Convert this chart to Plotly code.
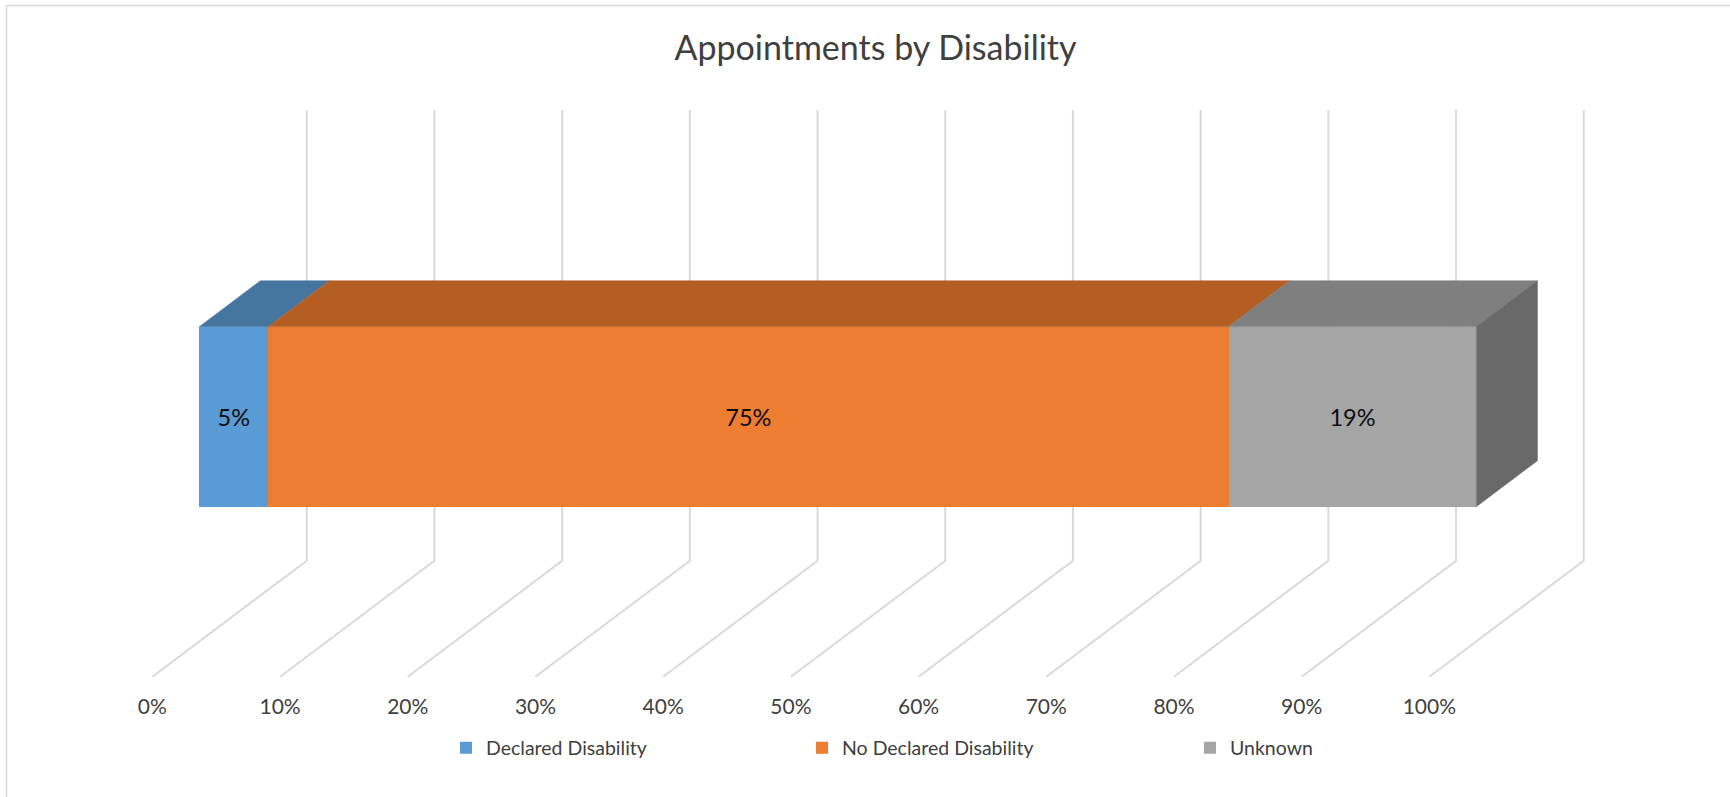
import plotly.graph_objects as go

# ---------------- data ----------------
categories = ["Appointments"]
series_names = ["Declared Disability", "No Declared Disability", "Unknown"]
declared = [5.4]
no_declared = [75.2]
unknown = [19.4]
tick_values = [0, 10, 20, 30, 40, 50, 60, 70, 80, 90, 100]
tick_labels = ["0%", "10%", "20%", "30%", "40%", "50%", "60%", "70%", "80%", "90%", "100%"]

# ---------------- styles ----------------
front_colors = ["#5B9BD5", "#ED7D31", "#A5A5A5"]
top_colors = ["#4676A0", "#B45E23", "#7F7F7F"]
side_color = "#696969"
grid_color = "#D9D9D9"
text_color = "#404040"
FONT = "Lato"

# ---------------- geometry (layout constants) ----------------
W, H = 1730, 797
PX_PER_PCT = 12.77          # horizontal px per percent on the bar front plane
BAR_X0_PX = 199.3           # pixel of 0% on the bar front plane
BAR_CY_PX = 416.7           # pixel row of bar centre
x_range = [(0 - BAR_X0_PX) / PX_PER_PCT, (W - BAR_X0_PX) / PX_PER_PCT]
y_range = [BAR_CY_PX - H, BAR_CY_PX]  # 1 y unit == 1 px, upward

BAR_HALF = 90
DEPTH_DX = 12.09            # full floor depth, x units
DEPTH_DY = 116              # full floor depth, y units
BAR_FRONT = 0.304
BAR_BACK = 0.70
FLOOR_Y = -260
WALL_TOP_Y = 306.7

bdx = (BAR_BACK - BAR_FRONT) * DEPTH_DX
bdy = (BAR_BACK - BAR_FRONT) * DEPTH_DY
f0 = -BAR_FRONT * DEPTH_DX
f1 = (1 - BAR_FRONT) * DEPTH_DX

series = [declared, no_declared, unknown]
legend_ids = ["legend", "legend2", "legend3"]

fig = go.Figure()

# top faces and side face (3D look)
start = 0.0
for vals, tc in zip(series, top_colors):
    s = start
    e = start + vals[0]
    fig.add_trace(go.Scatter(
        x=[s, e, e + bdx, s + bdx, s],
        y=[BAR_HALF, BAR_HALF, BAR_HALF + bdy, BAR_HALF + bdy, BAR_HALF],
        mode="lines", fill="toself", fillcolor=tc,
        line=dict(color=tc, width=0.5),
        showlegend=False, hoverinfo="skip"))
    start = e
T = start
fig.add_trace(go.Scatter(
    x=[T, T + bdx, T + bdx, T, T],
    y=[BAR_HALF, BAR_HALF + bdy, -BAR_HALF + bdy, -BAR_HALF, BAR_HALF],
    mode="lines", fill="toself", fillcolor=side_color,
    line=dict(color=side_color, width=0.5),
    showlegend=False, hoverinfo="skip"))

# front faces as stacked horizontal bars
for name, vals, fc, lg in zip(series_names, series, front_colors, legend_ids):
    fig.add_trace(go.Bar(
        y=[0], x=vals, orientation="h", width=2 * BAR_HALF,
        name=name, legend=lg,
        marker=dict(color=fc, line=dict(width=0)),
        texttemplate="%{x:.0f}%", textposition="inside",
        insidetextanchor="middle", constraintext="none",
        textfont=dict(family=FONT, size=23.5, color="#0d0d0d"),
        hoverinfo="skip"))

# bent 3D gridlines (floor diagonal + back wall vertical)
shapes = []
for v in tick_values:
    shapes.append(dict(
        type="path", xref="x", yref="y", layer="below",
        path=f"M {v + f0},{FLOOR_Y} L {v + f1},{FLOOR_Y + DEPTH_DY} L {v + f1},{WALL_TOP_Y}",
        line=dict(color=grid_color, width=2)))

# chart border (top & left)
bx = 6.5 / W
by = 1 - 5.5 / H
shapes.append(dict(type="line", xref="paper", yref="paper", x0=bx, y0=by, x1=1, y1=by,
                   line=dict(color=grid_color, width=1.5)))
shapes.append(dict(type="line", xref="paper", yref="paper", x0=bx, y0=by, x1=bx, y1=0,
                   line=dict(color=grid_color, width=1.5)))

legend_common = dict(orientation="h", y=0.0615, yanchor="middle", xanchor="left",
                     bgcolor="rgba(0,0,0,0)", itemwidth=30,
                     font=dict(family=FONT, size=19.5, color=text_color))
legend_px = [446, 802, 1190]

fig.update_layout(
    width=W, height=H, autosize=False,
    margin=dict(l=0, r=0, t=0, b=0, pad=0),
    paper_bgcolor="white", plot_bgcolor="white",
    barmode="stack",
    title=dict(text="Appointments by Disability", x=875.5 / W, xanchor="center",
               y=1 - 48 / H, yanchor="middle",
               font=dict(family=FONT, size=34, color=text_color)),
    xaxis=dict(range=x_range, domain=[0, 1], tickmode="array",
               tickvals=[v + f0 for v in tick_values], ticktext=tick_labels,
               anchor="free", position=0.132, showgrid=False, zeroline=False,
               showline=False, ticks="", automargin=False, fixedrange=True,
               tickfont=dict(family=FONT, size=21, color=text_color)),
    yaxis=dict(range=y_range, domain=[0, 1], type="linear", visible=False,
               showgrid=False, zeroline=False, automargin=False, fixedrange=True),
    shapes=shapes,
    legend=dict(x=legend_px[0] / W, **legend_common),
    legend2=dict(x=legend_px[1] / W, **legend_common),
    legend3=dict(x=legend_px[2] / W, **legend_common),
)

fig.write_html("out.html", post_script="document.body.style.margin='0';",
               config={"displayModeBar": False})
